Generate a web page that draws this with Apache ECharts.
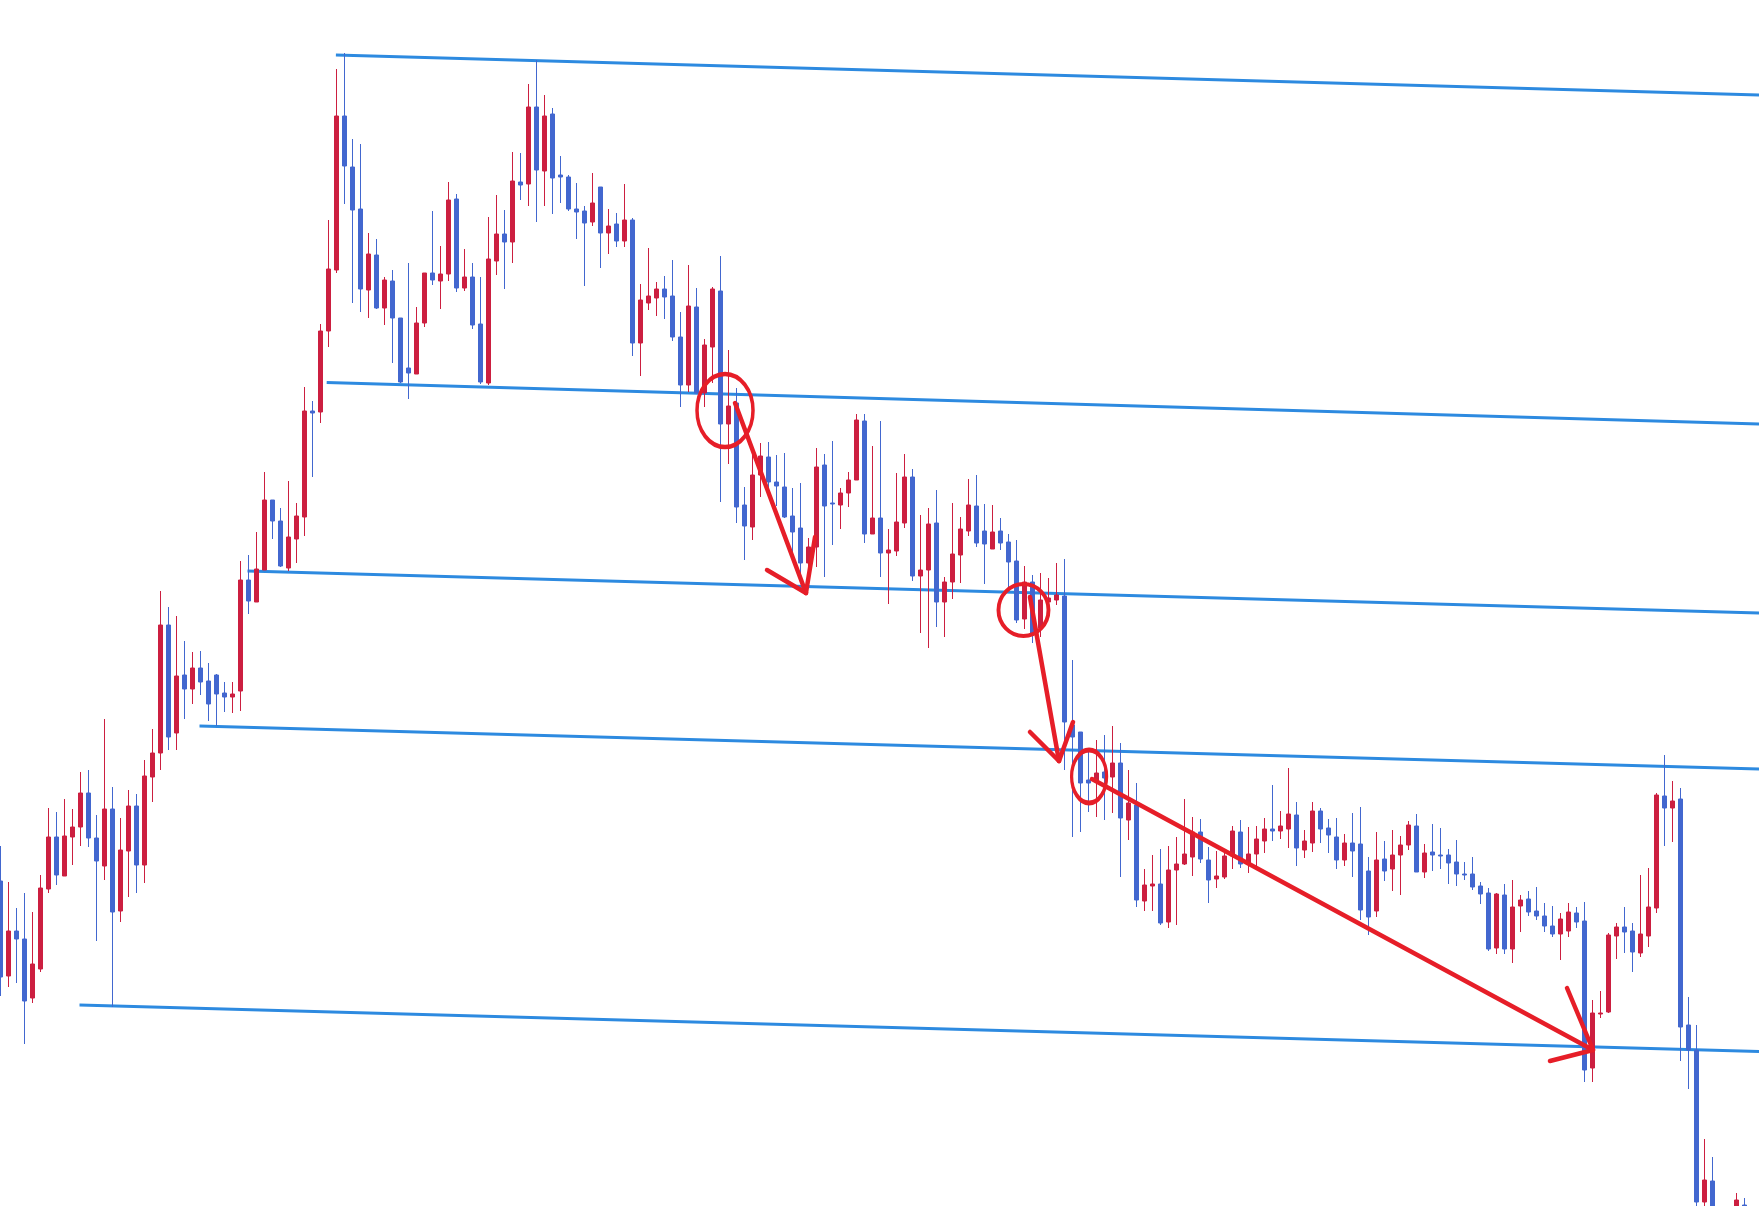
<!DOCTYPE html>
<html>
<head>
<meta charset="utf-8">
<script src="https://cdn.jsdelivr.net/npm/echarts@6/dist/echarts.min.js"></script>
<style>
html,body{margin:0;padding:0;background:#fff;}
#chart{width:1759px;height:1206px;}
</style>
</head>
<body>
<div id="chart"></div>
<script>
// Candle values (price units), index = bar number
var opens = [
325,230,275,267,208,237,317,369,330,369,
379,413,368,340,397,295,355,400,341,429,
453,581,473,531,517,538,525,531,513,509,
515,626,604,636,706,685,638,667,689,795,
794,875,936,1090,1039,997,916,951,898,925,
888,838,832,883,933,925,932,1007,918,929,
882,823,945,972,964,1024,1022,1099,1035,1092,
1031,1029,997,995,984,1019,973,982,965,986,
863,903,908,917,910,869,821,899,813,859,
915,782,803,701,679,731,749,724,719,690,
678,643,659,741,703,701,713,726,785,672,
688,653,655,683,729,630,636,683,604,624,
651,675,700,675,657,675,664,645,587,624,
578,604,606,610,481,474,426,424,434,429,
443,386,401,305,320,322,284,336,342,349,
374,346,327,329,350,374,342,352,365,377,
375,377,391,356,363,395,378,369,346,363,
362,335,295,347,337,351,361,380,334,354,
351,351,344,332,332,320,313,258,311,257,
300,307,295,290,280,272,275,293,285,138,
192,194,270,279,275,253,270,298,410,398,
407,181,156,4,25,-24,-54,-19,1
];
var closes = [
229,275,267,205,242,318,369,331,370,379,
413,368,345,397,294,356,400,341,430,453,
581,469,530,517,538,524,502,512,509,512,
626,605,637,706,685,640,669,690,795,793,
875,937,1090,1040,996,917,952,898,926,888,
824,833,883,933,926,932,1006,918,929,881,
824,947,972,964,1025,1021,1099,1036,1090,1028,
1029,997,994,983,1003,973,980,965,986,863,
906,910,917,909,869,821,900,813,861,917,
782,800,699,680,731,750,724,720,689,674,
643,659,739,700,702,713,726,786,672,688,
653,656,684,729,630,636,682,604,624,652,
677,701,663,662,674,663,644,586,624,573,
606,608,611,484,469,423,423,433,428,443,
388,403,306,321,322,283,336,342,352,374,
347,326,330,350,375,342,352,367,377,375,
380,392,358,365,395,377,371,346,363,355,
296,289,346,335,351,361,381,334,353,351,
350,343,332,331,319,312,257,312,257,299,
306,294,290,280,272,287,294,284,136,193,
193,271,279,274,254,272,299,411,398,405,
179,156,4,26,-24,-54,-29,6,-19
];
var lows = [
210,219,223,162,203,234,313,321,330,341,
360,359,265,326,199,284,309,313,323,404,
436,456,456,487,502,511,485,480,494,493,
495,592,604,636,667,639,635,643,670,729,
783,859,933,1002,903,894,888,897,881,843,
823,807,832,879,921,897,925,914,915,877,
822,821,931,917,943,1006,1000,984,1000,992,
1003,995,967,920,980,938,952,959,959,850,
830,896,890,887,865,799,814,813,799,823,
704,742,683,646,666,709,714,700,688,654,
633,631,639,629,661,677,699,726,663,672,
629,602,650,678,625,573,558,579,569,607,
623,670,659,622,657,656,617,583,577,563,
569,593,601,436,369,374,394,389,386,393,
329,366,299,295,295,281,278,281,341,330,
343,303,318,327,337,338,333,340,353,365,
367,358,340,348,354,363,353,337,340,329,
286,271,289,325,315,311,356,334,328,335,
337,322,320,326,316,302,255,252,252,243,
274,290,286,274,269,246,269,278,124,124,
188,193,247,253,234,249,259,293,360,364,
145,117,-4,-9,-34,-64,-59,-24,-24
];
var highs = [
360,324,298,313,294,331,398,394,407,397,
434,436,391,487,419,388,416,412,446,477,
615,599,590,565,554,555,543,532,524,524,
645,651,674,734,706,698,725,703,819,805,
882,986,1137,1153,1067,1062,973,967,929,936,
888,943,899,933,995,960,1024,1012,957,943,
929,989,1011,996,1054,1053,1122,1146,1111,1098,
1050,1031,1023,1000,1033,1019,997,993,1022,988,
922,958,924,930,946,894,941,918,867,919,
950,856,818,719,753,763,764,751,753,718,
723,668,758,752,765,718,734,792,792,760,
785,677,733,752,737,691,698,716,629,703,
689,727,731,702,701,688,672,666,640,631,
633,628,643,647,546,474,454,466,471,480,
463,436,423,337,351,357,360,369,407,389,
387,359,355,357,380,386,379,380,388,421,
395,438,404,376,404,398,387,388,372,393,
399,349,374,365,376,370,385,392,362,382,
378,357,366,344,349,324,318,313,322,326,
311,315,319,303,300,293,303,299,304,206,
215,273,283,299,283,331,338,413,451,425,
418,209,181,67,49,-14,-19,13,8
];

// Trend lines: [startBar, startPrice, endBar, endPrice]
var trendLines = [
  [41.95, 1151, 219.84, 1111],
  [40.8, 823.5, 219.84, 782],
  [30.9, 635, 219.84, 593],
  [24.9, 480, 219.84, 437],
  [9.9, 201, 219.84, 154.5]
];

// Arrow annotations: start, tip, wingA, wingB  (bar, price)
var arrows = [
  [[91.84, 803], [100.71, 613], [95.84, 636], [101.84, 669]],
  [[128.71, 609], [132.34, 445], [128.71, 474], [134.09, 484]],
  [[136.46, 427], [199.09, 156], [193.71, 145], [195.84, 218]]
];

// Circle annotations: [bar, price, width, height]
var circles = [
  [90.59, 795.5, 56, 73],
  [127.9, 596, 50, 52],
  [136.1, 429.5, 35, 53]
];

var UP = '#cc1f40', DOWN = '#4267cf', TREND = '#2d8ae0', MARK = '#e61e28';

var candleData = opens.map(function (o, i) {
  return [i, o, closes[i], lows[i], highs[i]];
});

var series = [];

trendLines.forEach(function (t) {
  series.push({
    type: 'line',
    data: [[t[0], t[1]], [t[2], t[3]]],
    symbol: 'none',
    silent: true,
    z: 1,
    lineStyle: { color: TREND, width: 2.8, opacity: 1 }
  });
});

series.push({
  type: 'candlestick',
  data: candleData,
  encode: { x: 0, y: [1, 2, 3, 4] },
  barWidth: 5,
  clip: true,
  z: 2,
  itemStyle: {
    color: UP,
    color0: DOWN,
    borderColor: UP,
    borderColor0: DOWN,
    borderWidth: 1
  }
});

arrows.forEach(function (a) {
  [[a[0], a[1]], [a[2], a[1]], [a[3], a[1]]].forEach(function (seg) {
    series.push({
      type: 'line',
      data: seg,
      symbol: 'none',
      silent: true,
      z: 5,
      lineStyle: { color: MARK, width: 4.5, cap: 'round', opacity: 1 }
    });
  });
});

series.push({
  type: 'scatter',
  z: 5,
  silent: true,
  data: circles.map(function (c) {
    return { value: [c[0], c[1]], symbolSize: [c[2], c[3]] };
  }),
  symbol: 'circle',
  itemStyle: { color: 'rgba(0,0,0,0)', borderColor: MARK, borderWidth: 4, opacity: 1 }
});

var chart = echarts.init(document.getElementById('chart'), null, { renderer: 'canvas' });
chart.setOption({
  animation: false,
  backgroundColor: '#ffffff',
  grid: { left: 0, right: 0, top: 0, bottom: 0, containLabel: false },
  xAxis: {
    type: 'value', min: -0.0375, max: 219.84,
    show: false, splitLine: { show: false }
  },
  yAxis: {
    type: 'value', min: 0, max: 1206,
    show: false, splitLine: { show: false }
  },
  series: series
});
</script>
</body>
</html>
